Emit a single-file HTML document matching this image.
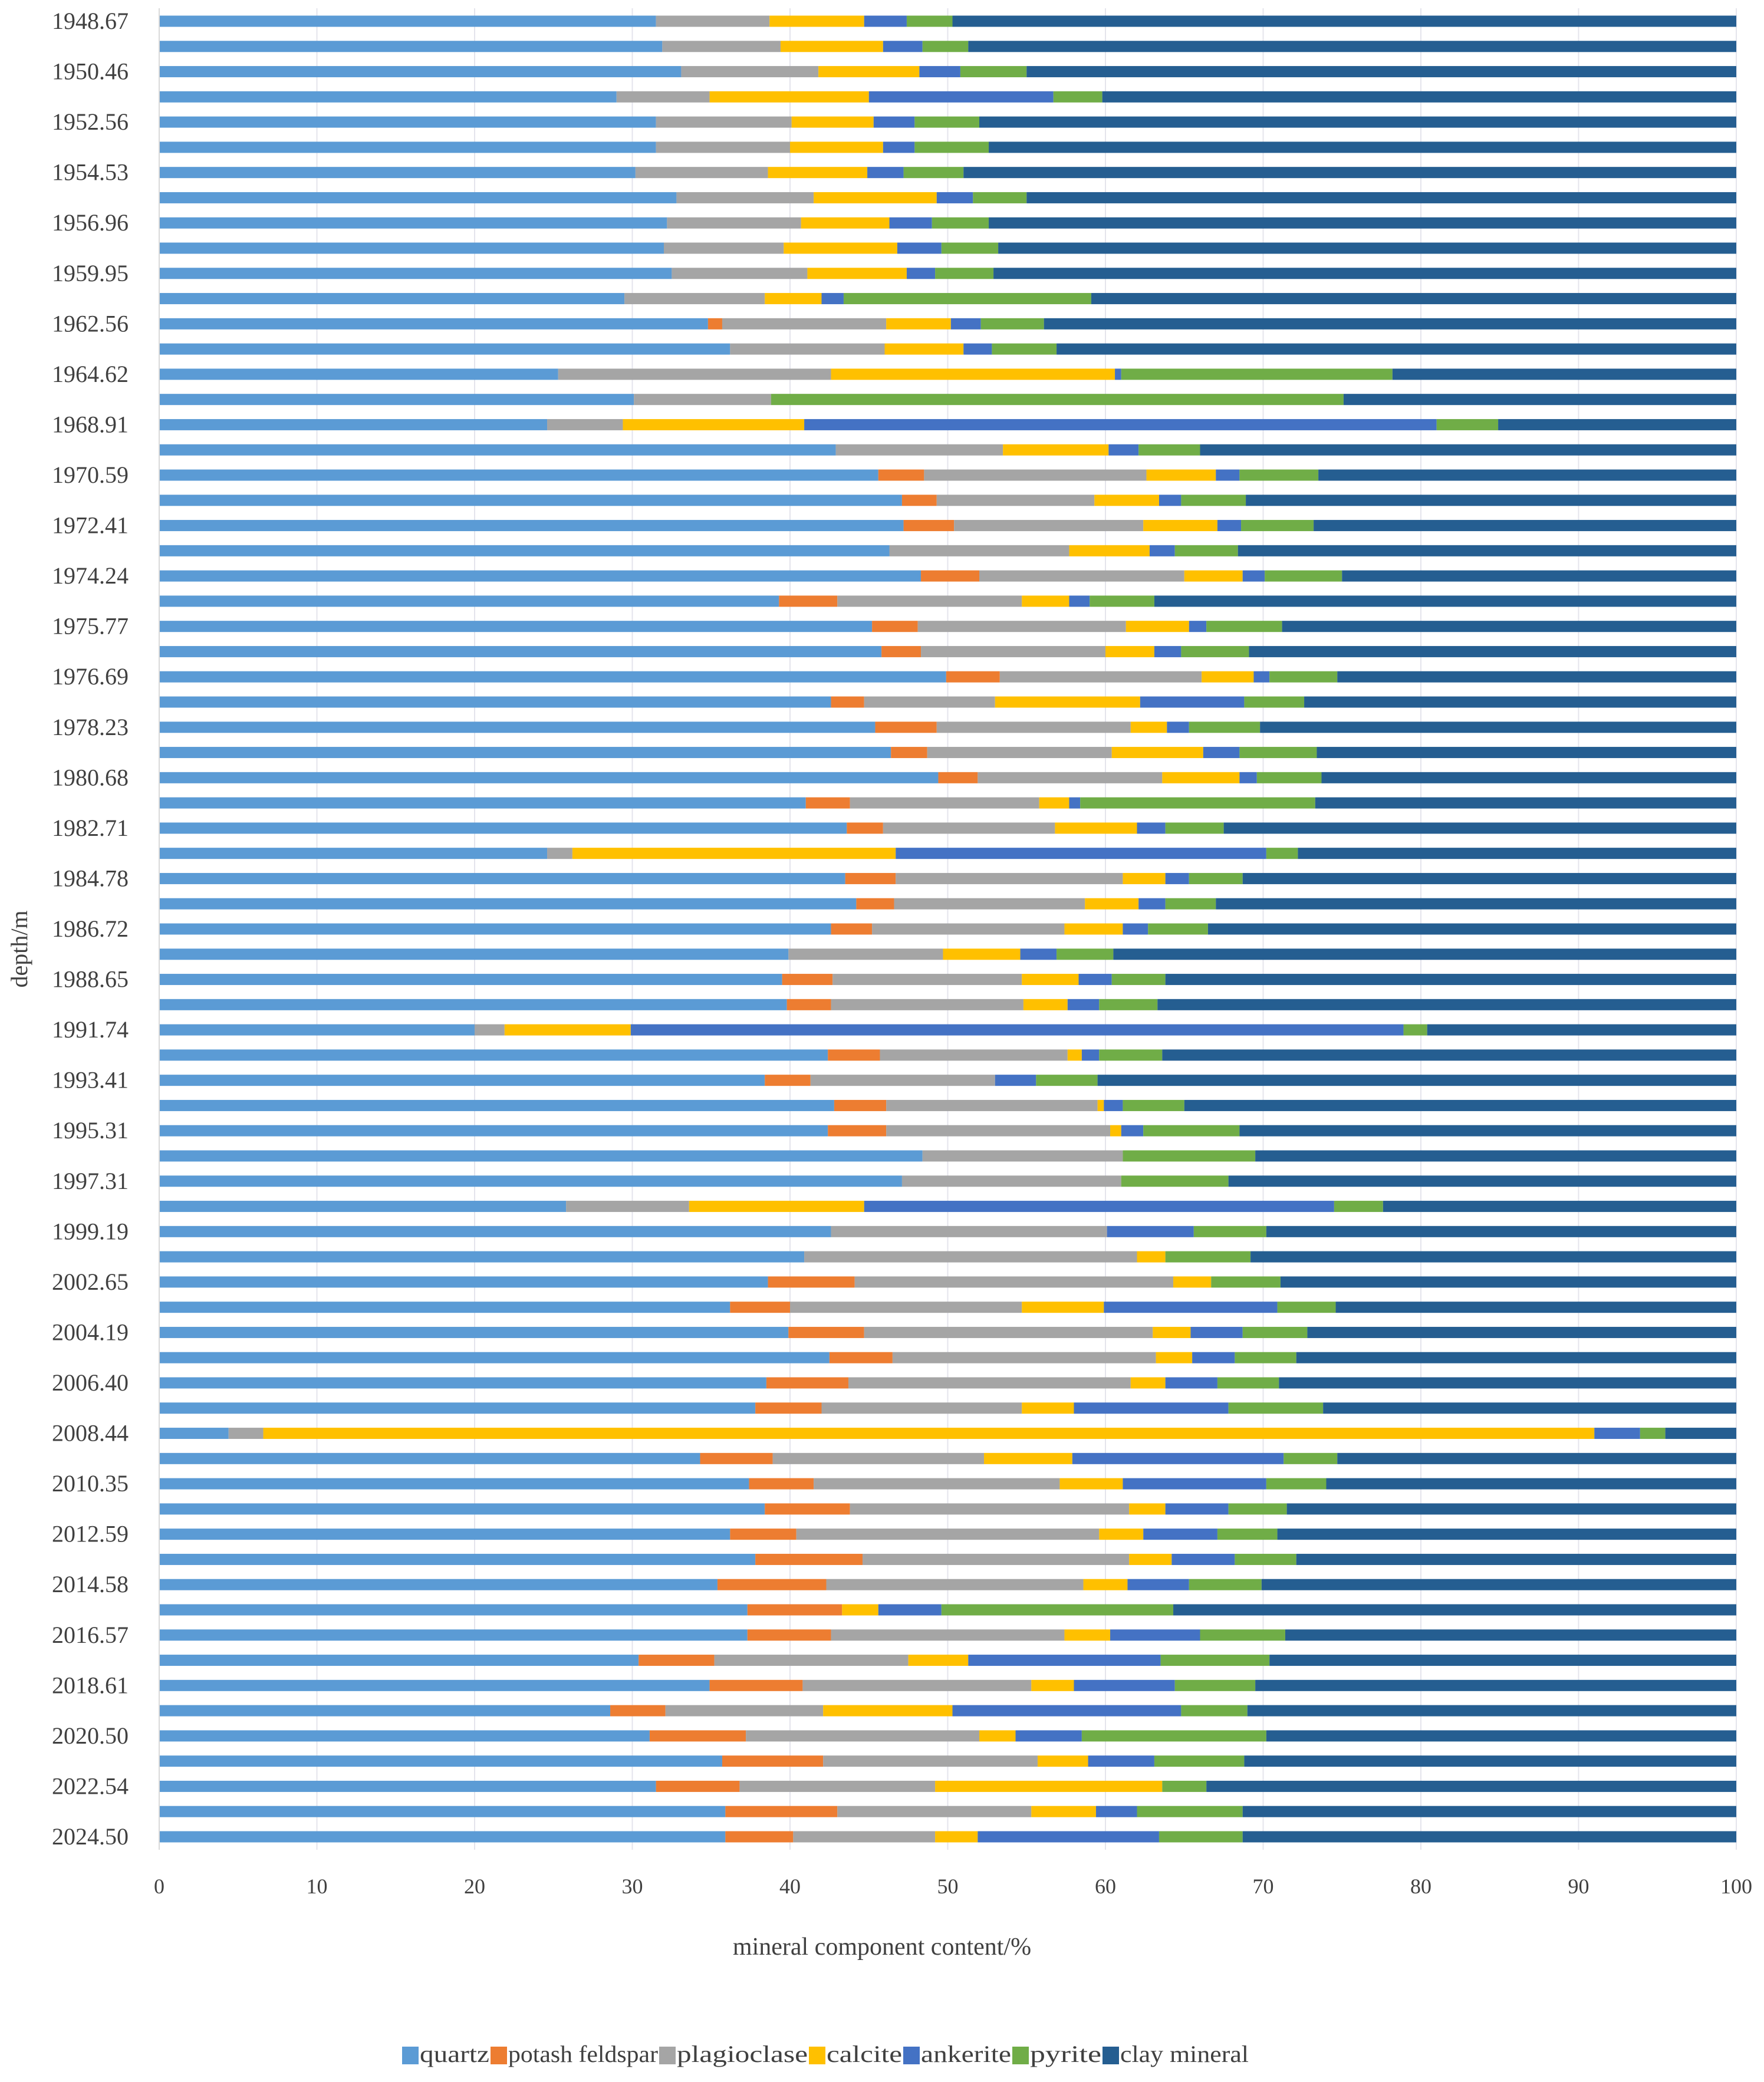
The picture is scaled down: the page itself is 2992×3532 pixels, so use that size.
<!DOCTYPE html>
<html><head><meta charset="utf-8">
<style>
html,body{margin:0;padding:0;background:#fff;}
svg{display:block;}
text{font-family:"Liberation Serif",serif;fill:#404040;}
</style></head>
<body>
<svg id="chart" width="2992" height="3532" viewBox="0 0 2992 3532" xmlns="http://www.w3.org/2000/svg">
<g id="grid"></g>
<g id="bars"></g>
<g id="yaxis"></g>
<g id="xaxis"></g>
<text x="1496" y="3316" font-size="42" text-anchor="middle">mineral component content/%</text>
<text transform="translate(46,1610) rotate(-90)" font-size="40" text-anchor="middle">depth/m</text>
<g id="legend"></g>
</svg>
<script>
// Depth labels (only every other row is labelled)
const depthLabels = ["1948.67","","1950.46","","1952.56","","1954.53","","1956.96","","1959.95","","1962.56","","1964.62","","1968.91","","1970.59","","1972.41","","1974.24","","1975.77","","1976.69","","1978.23","","1980.68","","1982.71","","1984.78","","1986.72","","1988.65","","1991.74","","1993.41","","1995.31","","1997.31","","1999.19","","2002.65","","2004.19","","2006.40","","2008.44","","2010.35","","2012.59","","2014.58","","2016.57","","2018.61","","2020.50","","2022.54","","2024.50"];
const seriesNames = ["quartz","potash feldspar","plagioclase","calcite","ankerite","pyrite","clay mineral"];
const seriesColors = ["#5b9bd5","#ed7d31","#a5a5a5","#ffc000","#4472c4","#70ad47","#255e91"];
const xTicks = [0,10,20,30,40,50,60,70,80,90,100];
// Cumulative boundary (%) where each component ends, per row (clay mineral ends at 100)
const quartzEnd = [31.5,31.9,33.1,29.0,31.5,31.5,30.2,32.8,32.2,32.0,32.5,29.5,34.8,36.2,25.3,30.1,24.6,42.9,45.6,47.1,47.2,46.3,48.3,39.3,45.2,45.8,49.9,42.6,45.4,46.4,49.4,41.0,43.6,24.6,43.5,44.2,42.6,39.9,39.5,39.8,20.0,42.4,38.4,42.8,42.4,48.4,47.1,25.8,42.6,40.9,38.6,36.2,39.9,42.5,38.5,37.8,4.4,34.3,37.4,38.4,36.2,37.8,35.4,37.3,37.3,30.4,34.9,28.6,31.1,35.7,31.5,35.9,35.9];
const potashEnd = [31.5,31.9,33.1,29.0,31.5,31.5,30.2,32.8,32.2,32.0,32.5,29.5,35.7,36.2,25.3,30.1,24.6,42.9,48.5,49.3,50.4,46.3,52.0,43.0,48.1,48.3,53.3,44.7,49.3,48.7,51.9,43.8,45.9,24.6,46.7,46.6,45.2,39.9,42.7,42.6,20.0,45.7,41.3,46.1,46.1,48.4,47.1,25.8,42.6,40.9,44.1,40.0,44.7,46.5,43.7,42.0,4.4,38.9,41.5,43.8,40.4,44.6,42.3,43.3,42.6,35.2,40.8,32.1,37.2,42.1,36.8,43.0,40.2];
const plagEnd = [38.7,39.4,41.8,34.9,40.1,40.0,38.6,41.5,40.7,39.6,41.1,38.4,46.1,46.0,42.6,38.8,29.4,53.5,62.6,59.3,62.4,57.7,65.0,54.7,61.3,60.0,66.1,53.0,61.6,60.4,63.6,55.8,56.8,26.2,61.1,58.7,57.4,49.7,54.7,54.8,21.9,57.6,53.0,59.5,60.3,61.1,61.0,33.6,60.1,62.0,64.3,54.7,63.0,63.2,61.6,54.7,6.6,52.3,57.1,61.5,59.6,61.5,58.6,43.3,57.4,47.5,55.3,42.1,52.0,55.7,49.2,55.3,49.2];
const calciteEnd = [44.7,45.9,48.2,45.0,45.3,45.9,44.9,49.3,46.3,46.8,47.4,42.0,50.2,51.0,60.6,38.8,40.9,60.2,67.0,63.4,67.1,62.8,68.7,57.7,65.3,63.1,69.4,62.2,63.9,66.2,68.5,57.7,62.0,46.7,63.8,62.1,61.1,54.6,58.3,57.6,29.9,58.5,53.0,59.9,61.0,61.1,61.0,44.7,60.1,63.8,66.7,59.9,65.4,65.5,63.8,58.0,91.0,57.9,61.1,63.8,62.4,64.2,61.4,45.6,60.3,51.3,58.0,50.3,54.3,58.9,63.6,59.4,51.9];
const ankeriteEnd = [47.4,48.4,50.8,56.7,47.9,47.9,47.2,51.6,49.0,49.6,49.2,43.4,52.1,52.8,61.0,38.8,81.0,62.1,68.5,64.8,68.6,64.4,70.1,59.0,66.4,64.8,70.4,68.8,65.3,68.5,69.6,58.4,63.8,70.2,65.3,63.8,62.7,56.9,60.4,59.6,78.9,59.6,55.6,61.1,62.4,61.1,61.0,74.5,65.6,63.8,66.7,70.9,68.7,68.2,67.1,67.8,93.9,71.3,70.2,67.8,67.1,68.2,65.3,49.6,66.0,63.5,64.4,64.8,58.5,63.1,63.6,62.0,63.4];
const pyriteEnd = [50.3,51.3,55.0,59.8,52.0,52.6,51.0,55.0,52.6,53.2,52.9,59.1,56.1,56.9,78.2,75.1,84.9,66.0,73.5,68.9,73.2,68.4,75.0,63.1,71.2,69.1,74.7,72.6,69.8,73.4,73.7,73.3,67.5,72.2,68.7,67.0,66.5,60.5,63.8,63.3,80.4,63.6,59.5,65.0,68.5,69.5,67.8,77.6,70.2,69.2,71.1,74.6,72.8,72.1,71.0,73.8,95.5,74.7,74.0,71.5,70.9,72.1,69.9,64.3,71.4,70.4,69.5,69.0,70.2,68.8,66.4,68.7,68.7];

const NS="http://www.w3.org/2000/svg";
const X0=270, X1=2945, Y0=36, Y1=3116, BAR_H=19;
function xScale(v){return X0+(X1-X0)*v/100;}
function yScale(i){return Y0+(Y1-Y0)*i/(depthLabels.length-1);}
function mk(tag,attrs,parent){const e=document.createElementNS(NS,tag);for(const k in attrs)e.setAttribute(k,attrs[k]);parent.appendChild(e);return e;}

const grid=document.getElementById('grid'), bars=document.getElementById('bars'), ya=document.getElementById('yaxis'), xa=document.getElementById('xaxis'), lg=document.getElementById('legend');

xTicks.forEach(t=>{
  const l=mk('line',{x1:xScale(t),x2:xScale(t),y1:Y0-22,y2:Y1+22,stroke:'#e4e4ec','stroke-width':2},grid);
  
  
  const tx=mk('text',{x:xScale(t),y:3212,'font-size':36,'text-anchor':'middle'},xa);
  tx.textContent=t;
  
  
});
const axisLine=mk('line',{x1:X0,x2:X0,y1:Y0-22,y2:Y1+22,stroke:'#d9d9d9','stroke-width':2},ya);



const ends=[quartzEnd,potashEnd,plagEnd,calciteEnd,ankeriteEnd,pyriteEnd];
depthLabels.forEach((lab,i)=>{
  const y=yScale(i);
  let prev=0;
  for(let s=0;s<7;s++){
    const end = s<6 ? ends[s][i] : 100;
    if(end>prev){
      const r=mk('rect',{x:xScale(prev),y:y-BAR_H/2,width:xScale(end)-xScale(prev),height:BAR_H,fill:seriesColors[s]},bars);
      
      
    }
    prev=Math.max(prev,end);
  }
  if(lab){
    const t=mk('text',{x:218,y:y+13,'font-size':40,'text-anchor':'end'},ya);
    t.textContent=lab;
    
    
  }
});

// legend
const legendX=[682,832,1118,1372,1532,1717,1870];
seriesNames.forEach((n,s)=>{
  const g=mk('g',{},lg);
  
  
  mk('rect',{x:legendX[s],y:3472,width:28,height:30,fill:seriesColors[s]},g);
  const nextX = s<6 ? legendX[s+1] : 2120;
  const t=mk('text',{x:legendX[s]+30,y:3498,'font-size':40,textLength:nextX-legendX[s]-32,lengthAdjust:'spacingAndGlyphs'},g);
  t.textContent=n;
});
</script>
</body></html>
